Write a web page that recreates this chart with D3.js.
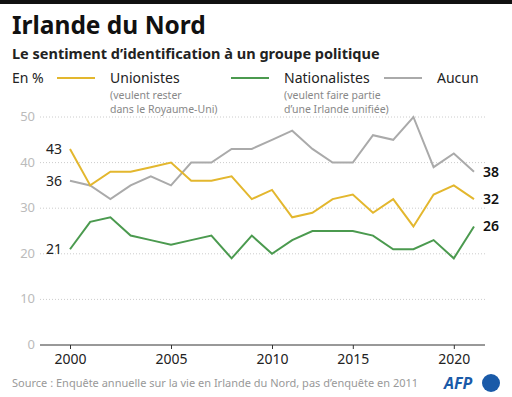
<!DOCTYPE html>
<html>
<head>
<meta charset="utf-8">
<script src="https://cdn.jsdelivr.net/npm/d3@7"></script>
<style>
	body { margin: 0; background: #fff; }
	svg { font-family: "Source Sans Pro", "Noto Sans", sans-serif; }
</style>
</head>
<body>
<div class="content"></div>
<script>
(function() {
	// years of the survey (none in 2011)
	var years = [2000, 2001, 2002, 2003, 2004, 2005, 2006, 2007, 2008, 2009, 2010,
		2012, 2013, 2014, 2015, 2016, 2017, 2018, 2019, 2020, 2021];
	var unionistes = [43, 35, 38, 38, 39, 40, 36, 36, 37, 32, 34,
		28, 29, 32, 33, 29, 32, 26, 33, 35, 32];
	var nationalistes = [21, 27, 28, 24, 23, 22, 23, 24, 19, 24, 20,
		23, 25, 25, 25, 24, 21, 21, 23, 19, 26];
	var aucun = [36, 35, 32, 35, 37, 35, 40, 40, 43, 43, 45,
		47, 43, 40, 40, 46, 45, 50, 39, 42, 38];
	var yTicks = [0, 10, 20, 30, 40, 50];
	var xTicks = [2000, 2005, 2010, 2015, 2020];

	var series = [
		{ name: "Aucun", values: aucun, color: "#aaaaaa" },
		{ name: "Unionistes", values: unionistes, color: "#e3b72e" },
		{ name: "Nationalistes", values: nationalistes, color: "#4b9a4f" }
	];

	var width = 512, height = 397;

	var svg = d3.select(".content")
		.append("svg")
		.attr("width", width)
		.attr("height", height);

	// top black band
	svg.append("rect")
		.attr("x", 0).attr("y", 0)
		.attr("width", width).attr("height", 4)
		.attr("fill", "#111");

	svg.append("text")
		.text("Irlande du Nord")
		.attr("x", 12).attr("y", 34)
		.style("font-weight", "bold")
		.style("font-size", "24.5px")
		.attr("fill", "#111");

	svg.append("text")
		.text("Le sentiment d\u2019identification à un groupe politique")
		.attr("x", 12).attr("y", 59)
		.style("font-weight", "bold")
		.style("font-size", "14.5px")
		.attr("fill", "#222");

	svg.append("text")
		.text("En %")
		.attr("x", 12).attr("y", 83)
		.style("font-size", "14px")
		.attr("fill", "#222");

	// legend
	var legend = [
		{ color: "#e3b72e", x: 57, label: "Unionistes", sub: ["(veulent rester", "dans le Royaume-Uni)"] },
		{ color: "#4b9a4f", x: 231, label: "Nationalistes", sub: ["(veulent faire partie", "d\u2019une Irlande unifiée)"] },
		{ color: "#aaaaaa", x: 384, label: "Aucun", sub: [] }
	];
	legend.forEach(function(l) {
		svg.append("line")
			.attr("x1", l.x).attr("x2", l.x + 38)
			.attr("y1", 78).attr("y2", 78)
			.attr("stroke", l.color)
			.attr("stroke-width", 2);
		svg.append("text")
			.text(l.label)
			.attr("x", l.x + 53).attr("y", 83)
			.style("font-size", "14px")
			.attr("fill", "#222");
		l.sub.forEach(function(s, i) {
			svg.append("text")
				.text(s)
				.attr("x", l.x + 53).attr("y", 98.5 + i * 14.5)
				.style("font-size", "10.5px")
				.attr("fill", "#888");
		});
	});

	var x = d3.scalePoint()
		.domain(years)
		.range([70, 474]);

	var y = d3.scaleLinear()
		.domain([0, 50])
		.range([345, 117]);

	// grid
	svg.append("g")
		.selectAll("line")
		.data(yTicks.filter(function(d) { return d > 0; }))
		.enter().append("line")
		.attr("x1", 40).attr("x2", 485)
		.attr("y1", function(d) { return y(d); })
		.attr("y2", function(d) { return y(d); })
		.attr("stroke", "#ccc")
		.attr("stroke-width", 1)
		.attr("stroke-dasharray", "1,2");

	svg.append("g")
		.selectAll("text")
		.data(yTicks)
		.enter().append("text")
		.text(function(d) { return d; })
		.attr("x", 35)
		.attr("y", function(d) { return y(d) + 4; })
		.attr("text-anchor", "end")
		.style("font-size", "13px")
		.attr("fill", "#bbb");

	// x axis
	var xAxis = d3.axisBottom(x)
		.tickValues(xTicks)
		.tickSize(4)
		.tickPadding(5);

	var gx = svg.append("g")
		.attr("transform", "translate(0," + y(0) + ")")
		.call(xAxis);
	gx.select(".domain")
		.attr("d", "M40,0H485")
		.attr("stroke", "#333");
	gx.selectAll(".tick line").attr("stroke", "#333");
	gx.selectAll(".tick text")
		.style("font-size", "14px")
		.style("font-family", "\"Source Sans Pro\", \"Noto Sans\", sans-serif")
		.attr("fill", "#222");

	var line = d3.line()
		.x(function(d, i) { return x(years[i]); })
		.y(function(d) { return y(d); });

	series.forEach(function(s) {
		svg.append("path")
			.datum(s.values)
			.attr("d", line)
			.attr("fill", "none")
			.attr("stroke", s.color)
			.attr("stroke-width", 2)
			.attr("stroke-linejoin", "miter");

		var first = s.values[0];
		var last = s.values[s.values.length - 1];
		svg.append("text")
			.text(first)
			.attr("x", x(years[0]) - 8)
			.attr("y", y(first) + 5)
			.attr("text-anchor", "end")
			.style("font-size", "14px")
			.attr("fill", "#222");
		svg.append("text")
			.text(last)
			.attr("x", x(years[years.length - 1]) + 9)
			.attr("y", y(last) + 5)
			.style("font-size", "14px")
			.style("font-weight", "600")
			.attr("fill", "#111");
	});

	svg.append("text")
		.text("Source : Enquête annuelle sur la vie en Irlande du Nord, pas d\u2019enquête en 2011")
		.attr("x", 12).attr("y", 387)
		.style("font-size", "11px")
		.attr("fill", "#999");

	// AFP logo
	svg.append("text")
		.text("AFP")
		.attr("x", 444).attr("y", 389)
		.style("font-size", "16px")
		.style("font-weight", "bold")
		.style("font-style", "italic")
		.attr("fill", "#1a5aa8");
	svg.append("circle")
		.attr("cx", 491).attr("cy", 383)
		.attr("r", 9)
		.attr("fill", "#1a5aa8");
}());
</script>
</body>
</html>
